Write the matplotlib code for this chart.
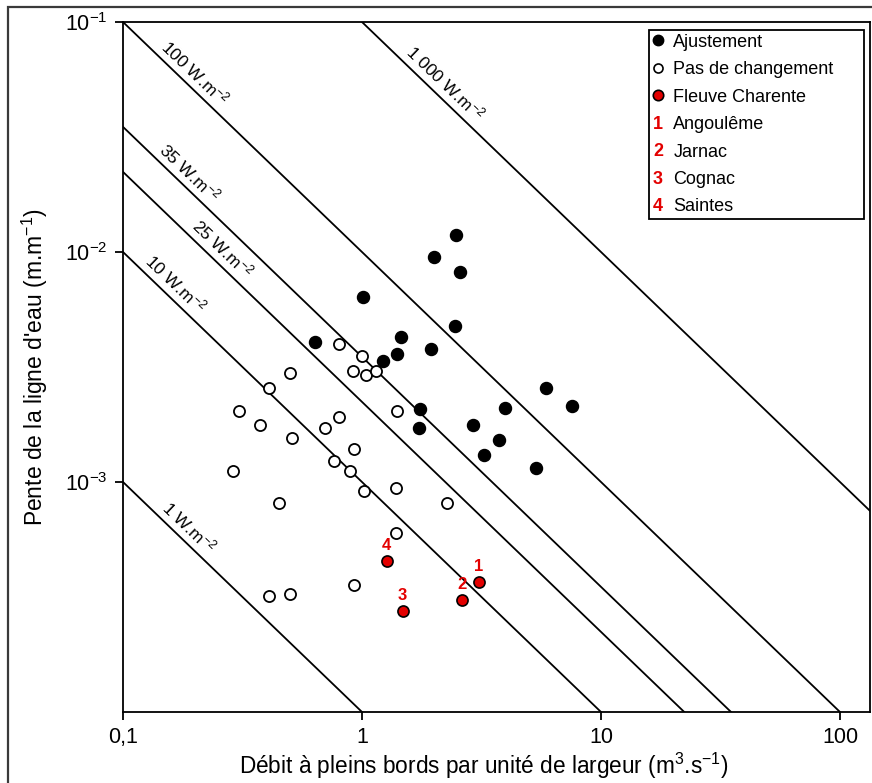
import numpy as np
import matplotlib
matplotlib.use('Agg')
import matplotlib.pyplot as plt
from matplotlib.legend_handler import HandlerBase
from matplotlib.lines import Line2D
from matplotlib.text import Text
from matplotlib.patches import Rectangle

plt.rcParams['font.family'] = ['Liberation Sans', 'DejaVu Sans']
plt.rcParams['mathtext.fontset'] = 'custom'
plt.rcParams['mathtext.rm'] = 'Liberation Sans'
plt.rcParams['mathtext.it'] = 'Liberation Sans:italic'
plt.rcParams['mathtext.bf'] = 'Liberation Sans:bold'

# --- data -------------------------------------------------------------
adj_q = [0.634, 1.007, 1.22, 1.396, 1.452, 1.994, 2.463, 2.56, 2.44, 1.937,
         1.742, 1.726, 2.90, 3.95, 3.73, 3.23, 5.86, 7.59, 5.37]
adj_s = [4.05e-3, 6.35e-3, 3.35e-3, 3.59e-3, 4.26e-3, 9.47e-3, 1.18e-2, 8.15e-3,
         4.75e-3, 3.78e-3, 2.07e-3, 1.72e-3, 1.77e-3, 2.10e-3, 1.52e-3, 1.31e-3,
         2.56e-3, 2.14e-3, 1.15e-3]

nochg_q = [0.799, 0.998, 0.915, 1.036, 1.141, 0.499, 0.407, 0.305, 0.374, 0.508,
           0.698, 0.799, 1.396, 0.923, 0.762, 0.889, 0.288, 1.016, 1.383, 2.26,
           0.449, 1.383, 0.923, 0.499, 0.407]
nochg_s = [3.97e-3, 3.52e-3, 3.03e-3, 2.91e-3, 3.03e-3, 2.97e-3, 2.56e-3, 2.03e-3,
           1.77e-3, 1.55e-3, 1.72e-3, 1.91e-3, 2.03e-3, 1.39e-3, 1.23e-3, 1.12e-3,
           1.12e-3, 9.14e-4, 9.42e-4, 8.11e-4, 8.11e-4, 6.01e-4, 3.57e-4, 3.27e-4,
           3.20e-4]

char_q = [3.08, 2.61, 1.48, 1.27]
char_s = [3.68e-4, 3.08e-4, 2.75e-4, 4.54e-4]
char_ids = ['1', '2', '3', '4']
char_names = ['Angoulême', 'Jarnac', 'Cognac', 'Saintes']

power_values = [1, 10, 22.3, 35, 100, 1000]
power_labels = ['1', '10', '25', '35', '100', '1 000']
label_q = [0.1726, 0.151, 0.2375, 0.174, 0.183, 2.036]
GAMMA = 10000.0  # rho * g

xticks = [0.1, 1, 10, 100]
xticklabels = ['0,1', '1', '10', '100']
yticks = [1e-3, 1e-2, 1e-1]
yticklabels = [r'$\mathregular{10^{-3}}$', r'$\mathregular{10^{-2}}$', r'$\mathregular{10^{-1}}$']

# --- figure -----------------------------------------------------------
fig = plt.figure(figsize=(8.72, 7.83), dpi=100)
ax = fig.add_axes([123/872, 1-712/783, (870-123)/872, (712-22)/783])
ax.set_xscale('log')
ax.set_yscale('log')
ax.set_xlim(0.1, 133.5)
ax.set_ylim(1.0e-4, 1e-1)

# outer frame
fig.patches.append(Rectangle((8/872, -0.05), 1.2, 1-7/783+0.05, transform=fig.transFigure,
                             fill=False, ec='#3a3a3a', lw=1.6, zorder=0))

qq = np.logspace(-1.5, 2.5, 50)
for p in power_values:
    ax.plot(qq, p / (GAMMA * qq), color='black', lw=1.3, zorder=1)

fig.canvas.draw()
p0 = ax.transData.transform((1, 1e-2))
p1 = ax.transData.transform((10, 1e-3))
ang = np.degrees(np.arctan2(p1[1]-p0[1], p1[0]-p0[0]))
nrm = np.array([-np.sin(np.radians(ang)), np.cos(np.radians(ang))])
d = 10.0
for p, lab, xq in zip(power_values, power_labels, label_q):
    ax.annotate(lab + r' W.m$\mathregular{^{-2}}$', (xq, p/(GAMMA*xq)),
                xytext=(d*nrm[0], d*nrm[1]), textcoords='offset points',
                rotation=ang, rotation_mode='anchor', ha='center', va='center',
                fontsize=12.5, zorder=2)

ms = 75
ax.scatter(adj_q, adj_s, s=ms, color='black', zorder=3)
ax.scatter(nochg_q, nochg_s, s=ms*0.85, facecolor='white', edgecolor='black', lw=1.3, zorder=3)
ax.scatter(char_q, char_s, s=ms*0.85, facecolor='#e30000', edgecolor='black', lw=1.2, zorder=4)
for q, s, t in zip(char_q, char_s, char_ids):
    ax.annotate(t, (q, s), xytext=(0, 5.5), textcoords='offset points', ha='center', va='bottom',
                color='#e30000', fontweight='bold', fontsize=12, zorder=5)

ax.set_xticks(xticks)
ax.set_xticklabels(xticklabels)
ax.set_yticks(yticks)
ax.set_yticklabels(yticklabels)
ax.minorticks_off()
ax.tick_params(direction='out', length=6, width=1.3, labelsize=15.5, pad=5)
for sp in ax.spines.values():
    sp.set_linewidth(1.3)

ax.set_xlabel(r'Débit à pleins bords par unité de largeur (m$\mathregular{^3}$.s$\mathregular{^{-1}}$)',
              fontsize=16.3, labelpad=2)
ax.xaxis.label.set_x((484-123)/747)
ax.set_ylabel(r"Pente de la ligne d'eau (m.m$\mathregular{^{-1}}$)", fontsize=16.5, labelpad=11)

# legend
class NumberHandle:
    def __init__(self, s):
        self.s = s

class HandlerNumber(HandlerBase):
    def create_artists(self, legend, orig_handle, xdescent, ydescent, width, height, fontsize, trans):
        t = Text(-xdescent + width/2, -ydescent + height/2 - 1, orig_handle.s, color='#e30000',
                 fontweight='bold', ha='center', va='center', fontsize=fontsize, transform=trans)
        return [t]

handles = [Line2D([], [], ls='none', marker='o', ms=7.5, mfc='black', mec='black'),
           Line2D([], [], ls='none', marker='o', ms=6.5, mfc='white', mec='black', mew=1.2),
           Line2D([], [], ls='none', marker='o', ms=7.5, mfc='#e30000', mec='black', mew=1.2)]
labels = ['Ajustement', 'Pas de changement', 'Fleuve Charente']
for i, n in zip(char_ids, char_names):
    handles.append(NumberHandle(i))
    labels.append(n)

leg = ax.legend(handles, labels, loc='upper left',
                bbox_to_anchor=((649-123)/747, 0.9884-0.3, (864-649)/747, 0.3),
                mode='expand', borderaxespad=0, fontsize=13, handlelength=0.6,
                handletextpad=0.55, labelspacing=0.58, borderpad=0.2, fancybox=False,
                framealpha=1, edgecolor='black', handler_map={NumberHandle: HandlerNumber()})
leg.get_frame().set_linewidth(1.3)

fig.savefig('out.png', dpi=100)
